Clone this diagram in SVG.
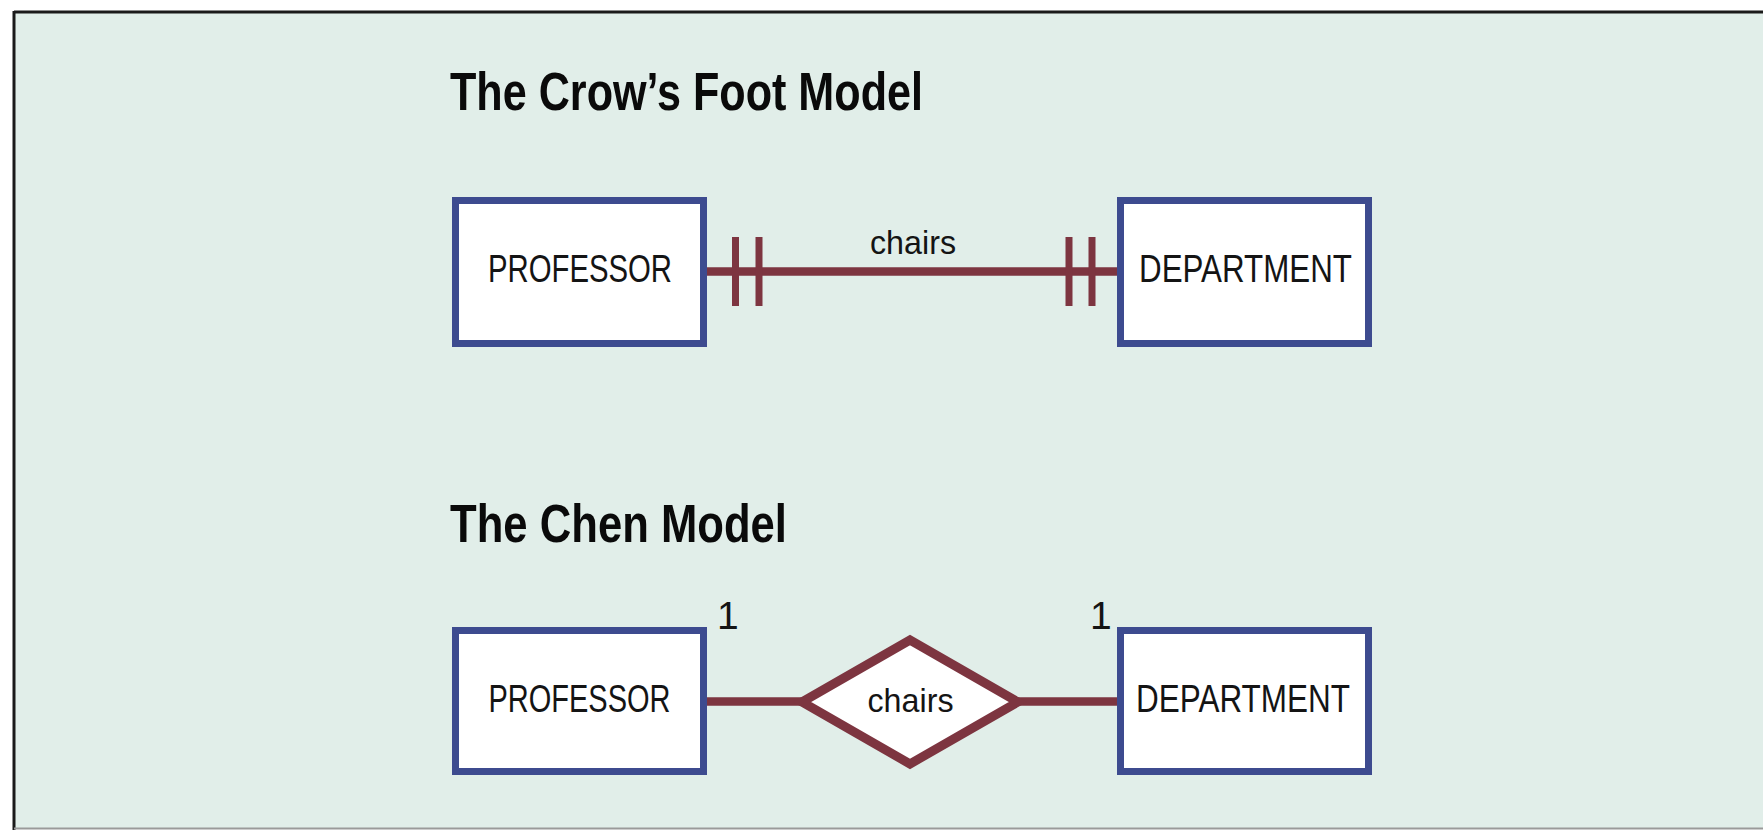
<svg xmlns="http://www.w3.org/2000/svg" width="1763" height="830" viewBox="0 0 1763 830">
  <style>
    .title { font-family: "Liberation Sans", Arial, sans-serif; font-weight: bold; font-size: 53.5px; fill: #0a0a0a; }
    .entity rect { fill: #ffffff; stroke: #3d4b8f; stroke-width: 7; }
    .entity text { font-family: "Liberation Sans", Arial, sans-serif; font-size: 38px; fill: #141414; text-anchor: middle; }
    .rel polygon { fill: #ffffff; stroke: #7d3540; stroke-width: 9; stroke-linejoin: miter; }
    .label { font-family: "Liberation Sans", Arial, sans-serif; font-size: 33px; fill: #141414; text-anchor: middle; }
    .card { font-family: "Liberation Sans", Arial, sans-serif; font-size: 39px; fill: #141414; }
    .conn line { stroke: #7d3540; stroke-width: 8.5; }
    .conn line.tick { stroke-width: 7; }
  </style>

  <!-- panel background and frame -->
  <rect x="0" y="0" width="1763" height="830" fill="#ffffff"/>
  <rect x="14" y="12" width="1749" height="816" fill="#e1eee9"/>
  <line x1="14" y1="12" x2="1763" y2="12" stroke="#1a1a1a" stroke-width="3"/>
  <line x1="14" y1="11" x2="14" y2="830" stroke="#1a1a1a" stroke-width="3"/>
  <line x1="14" y1="828.5" x2="1763" y2="828.5" stroke="#9a9a9a" stroke-width="2"/>

  <!-- section headings -->
  <text class="title" x="450" y="110" textLength="473" lengthAdjust="spacingAndGlyphs">The Crow’s Foot Model</text>
  <text class="title" x="450" y="542" textLength="337" lengthAdjust="spacingAndGlyphs">The Chen Model</text>

  <!-- relationship lines -->
  <g id="connectors" class="conn">
    <!-- crow's foot: one-and-only-one at both ends -->
    <line x1="707" y1="271.5" x2="1117" y2="271.5"/>
    <line class="tick" x1="735.5" y1="237" x2="735.5" y2="306"/>
    <line class="tick" x1="759" y1="237" x2="759" y2="306"/>
    <line class="tick" x1="1069" y1="237" x2="1069" y2="306"/>
    <line class="tick" x1="1092" y1="237" x2="1092" y2="306"/>
    <!-- chen: entity to relationship diamond -->
    <line x1="707" y1="701.5" x2="806" y2="701.5"/>
    <line x1="1014" y1="701.5" x2="1117" y2="701.5"/>
  </g>
  <text class="label" x="913" y="254" textLength="86" lengthAdjust="spacingAndGlyphs">chairs</text>
  <text class="card" x="717" y="629">1</text>
  <text class="card" x="1090" y="629">1</text>

  <!-- crow's foot entities -->
  <g id="cf-professor" class="entity">
    <rect x="455.5" y="200.5" width="248" height="143"/>
    <text x="580" y="281.5" textLength="184" lengthAdjust="spacingAndGlyphs">PROFESSOR</text>
  </g>
  <g id="cf-department" class="entity">
    <rect x="1120.5" y="200.5" width="248" height="143"/>
    <text x="1245.5" y="281.5" textLength="213" lengthAdjust="spacingAndGlyphs">DEPARTMENT</text>
  </g>

  <!-- chen entities and relationship -->
  <g id="chen-professor" class="entity">
    <rect x="455.5" y="630.5" width="248" height="141"/>
    <text x="579.5" y="711.5" textLength="182" lengthAdjust="spacingAndGlyphs">PROFESSOR</text>
  </g>
  <g id="chen-chairs" class="rel">
    <polygon points="802,702 910,640 1018,702 910,764"/>
    <text class="label" x="910.5" y="712" textLength="86" lengthAdjust="spacingAndGlyphs">chairs</text>
  </g>
  <g id="chen-department" class="entity">
    <rect x="1120.5" y="630.5" width="248" height="141"/>
    <text x="1243" y="711.5" textLength="214" lengthAdjust="spacingAndGlyphs">DEPARTMENT</text>
  </g>
</svg>
